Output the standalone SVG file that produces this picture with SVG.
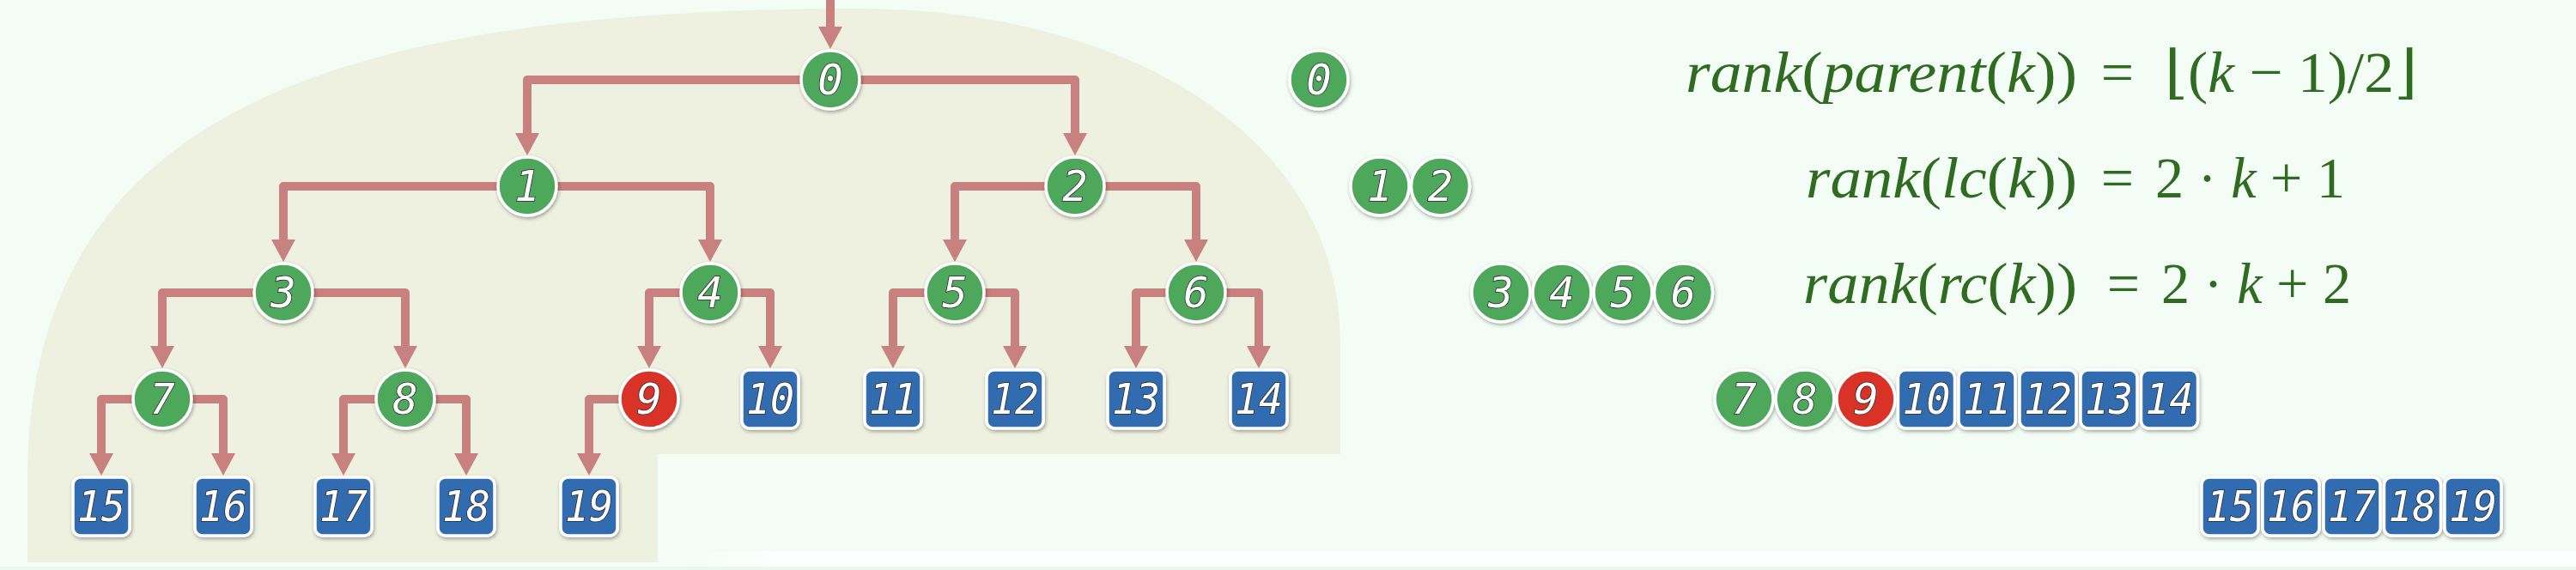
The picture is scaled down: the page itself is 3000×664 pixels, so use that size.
<svg xmlns="http://www.w3.org/2000/svg" width="3000" height="664" viewBox="0 0 3000 664">
<defs>
<style>
.bg{fill:#f3fdf5}
.region{fill:#eef1e0}
.edge{fill:none;stroke:#c8817e;stroke-width:10;stroke-linejoin:round;marker-end:url(#arr)}
.g{fill:#4ea85c;stroke:#fff;stroke-width:3.5}
.r{fill:#d93226;stroke:#fff;stroke-width:3.5}
.b{fill:#316cb0;stroke:#fff;stroke-width:3.5}
.lbl{font-family:"DejaVu Sans Mono","Liberation Mono",monospace;font-style:oblique;font-size:49px;fill:#fff;stroke:#2a2a2a;stroke-width:1.6;paint-order:stroke;text-anchor:middle}
.f{font-family:"Liberation Serif","DejaVu Serif",serif;font-size:68px;fill:#2f6b21}
.i{font-style:italic}
</style>
<marker id="arr" viewBox="0 0 26 28" refX="0" refY="14" markerWidth="26" markerHeight="28" markerUnits="userSpaceOnUse" orient="auto">
<path d="M0,0 L26,14 L0,28 z" fill="#c8817e"/>
</marker>
<filter id="sh" x="-30%" y="-30%" width="160%" height="160%">
<feDropShadow dx="1" dy="2" stdDeviation="2" flood-color="#000" flood-opacity="0.35"/>
</filter>
<linearGradient id="band" x1="0" x2="1" y1="0" y2="0">
<stop offset="0" stop-color="#fdfffe" stop-opacity="0"/>
<stop offset="0.05" stop-color="#fdfffe" stop-opacity="1"/>
<stop offset="1" stop-color="#fdfffe" stop-opacity="1"/>
</linearGradient>
</defs>
<rect class="bg" x="0" y="0" width="3000" height="664"/>
<rect x="800" y="642" width="2200" height="18" fill="url(#band)"/>
<rect x="0" y="660" width="3000" height="4" fill="#e8f7ef"/>
<path class="region" d="M32,560 C32,150 350,10 1000,10 C1300,10 1561,150 1561,400 L1561,529 L766,529 L766,655 L32,655 Z"/>

<g id="connectors">
<path class="edge" d="M967,0 V31"/>
<path class="edge" d="M967,93 H614 V155"/>
<path class="edge" d="M967,93 H1252 V155"/>
<path class="edge" d="M614,217 H330 V279"/>
<path class="edge" d="M614,217 H827 V279"/>
<path class="edge" d="M1252,217 H1112 V279"/>
<path class="edge" d="M1252,217 H1393 V279"/>
<path class="edge" d="M330,341 H189 V403"/>
<path class="edge" d="M330,341 H472 V403"/>
<path class="edge" d="M827,341 H756 V403"/>
<path class="edge" d="M827,341 H897 V403"/>
<path class="edge" d="M1112,341 H1040 V403"/>
<path class="edge" d="M1112,341 H1182 V403"/>
<path class="edge" d="M1393,341 H1323 V403"/>
<path class="edge" d="M1393,341 H1466 V403"/>
<path class="edge" d="M189,465 H118 V528"/>
<path class="edge" d="M189,465 H260 V528"/>
<path class="edge" d="M472,465 H400 V528"/>
<path class="edge" d="M472,465 H543 V528"/>
<path class="edge" d="M756,465 H686 V528"/>
</g>

<g id="tree" filter="url(#sh)">
<g id="t0"><circle class="g" cx="967" cy="93" r="34"/><text class="lbl" x="967" y="110">0</text></g>
<g id="t1"><circle class="g" cx="614" cy="217" r="34"/><text class="lbl" x="614" y="234">1</text></g>
<g id="t2"><circle class="g" cx="1252" cy="217" r="34"/><text class="lbl" x="1252" y="234">2</text></g>
<g id="t3"><circle class="g" cx="330" cy="341" r="34"/><text class="lbl" x="330" y="358">3</text></g>
<g id="t4"><circle class="g" cx="827" cy="341" r="34"/><text class="lbl" x="827" y="358">4</text></g>
<g id="t5"><circle class="g" cx="1112" cy="341" r="34"/><text class="lbl" x="1112" y="358">5</text></g>
<g id="t6"><circle class="g" cx="1393" cy="341" r="34"/><text class="lbl" x="1393" y="358">6</text></g>
<g id="t7"><circle class="g" cx="189" cy="465" r="34"/><text class="lbl" x="189" y="482">7</text></g>
<g id="t8"><circle class="g" cx="472" cy="465" r="34"/><text class="lbl" x="472" y="482">8</text></g>
<g id="t9"><circle class="r" cx="756" cy="465" r="34"/><text class="lbl" x="756" y="482">9</text></g>
<g id="t10"><rect class="b" x="864" y="431" width="66" height="68" rx="9"/><text class="lbl" x="897" y="482" textLength="56" lengthAdjust="spacingAndGlyphs">10</text></g>
<g id="t11"><rect class="b" x="1007" y="431" width="66" height="68" rx="9"/><text class="lbl" x="1040" y="482" textLength="56" lengthAdjust="spacingAndGlyphs">11</text></g>
<g id="t12"><rect class="b" x="1149" y="431" width="66" height="68" rx="9"/><text class="lbl" x="1182" y="482" textLength="56" lengthAdjust="spacingAndGlyphs">12</text></g>
<g id="t13"><rect class="b" x="1290" y="431" width="66" height="68" rx="9"/><text class="lbl" x="1323" y="482" textLength="56" lengthAdjust="spacingAndGlyphs">13</text></g>
<g id="t14"><rect class="b" x="1433" y="431" width="66" height="68" rx="9"/><text class="lbl" x="1466" y="482" textLength="56" lengthAdjust="spacingAndGlyphs">14</text></g>
<g id="t15"><rect class="b" x="85" y="556" width="66" height="68" rx="9"/><text class="lbl" x="118" y="607" textLength="56" lengthAdjust="spacingAndGlyphs">15</text></g>
<g id="t16"><rect class="b" x="227" y="556" width="66" height="68" rx="9"/><text class="lbl" x="260" y="607" textLength="56" lengthAdjust="spacingAndGlyphs">16</text></g>
<g id="t17"><rect class="b" x="367" y="556" width="66" height="68" rx="9"/><text class="lbl" x="400" y="607" textLength="56" lengthAdjust="spacingAndGlyphs">17</text></g>
<g id="t18"><rect class="b" x="510" y="556" width="66" height="68" rx="9"/><text class="lbl" x="543" y="607" textLength="56" lengthAdjust="spacingAndGlyphs">18</text></g>
<g id="t19"><rect class="b" x="653" y="556" width="66" height="68" rx="9"/><text class="lbl" x="686" y="607" textLength="56" lengthAdjust="spacingAndGlyphs">19</text></g>
</g>

<g id="array" filter="url(#sh)">
<g id="a0"><circle class="g" cx="1536" cy="93" r="34"/><text class="lbl" x="1536" y="110">0</text></g>
<g id="a1"><circle class="g" cx="1607" cy="217" r="34"/><text class="lbl" x="1607" y="234">1</text></g>
<g id="a2"><circle class="g" cx="1677.5" cy="217" r="34"/><text class="lbl" x="1677.5" y="234">2</text></g>
<g id="a3"><circle class="g" cx="1748" cy="341" r="34"/><text class="lbl" x="1748" y="358">3</text></g>
<g id="a4"><circle class="g" cx="1819" cy="341" r="34"/><text class="lbl" x="1819" y="358">4</text></g>
<g id="a5"><circle class="g" cx="1890" cy="341" r="34"/><text class="lbl" x="1890" y="358">5</text></g>
<g id="a6"><circle class="g" cx="1960.5" cy="341" r="34"/><text class="lbl" x="1960.5" y="358">6</text></g>
<g id="a7"><circle class="g" cx="2031" cy="465" r="34"/><text class="lbl" x="2031" y="482">7</text></g>
<g id="a8"><circle class="g" cx="2102" cy="465" r="34"/><text class="lbl" x="2102" y="482">8</text></g>
<g id="a9"><circle class="r" cx="2173" cy="465" r="34"/><text class="lbl" x="2173" y="482">9</text></g>
<g id="a10"><rect class="b" x="2210.5" y="431" width="66" height="68" rx="9"/><text class="lbl" x="2243.5" y="482" textLength="56" lengthAdjust="spacingAndGlyphs">10</text></g>
<g id="a11"><rect class="b" x="2281" y="431" width="66" height="68" rx="9"/><text class="lbl" x="2314" y="482" textLength="56" lengthAdjust="spacingAndGlyphs">11</text></g>
<g id="a12"><rect class="b" x="2352" y="431" width="66" height="68" rx="9"/><text class="lbl" x="2385" y="482" textLength="56" lengthAdjust="spacingAndGlyphs">12</text></g>
<g id="a13"><rect class="b" x="2423" y="431" width="66" height="68" rx="9"/><text class="lbl" x="2456" y="482" textLength="56" lengthAdjust="spacingAndGlyphs">13</text></g>
<g id="a14"><rect class="b" x="2493.5" y="431" width="66" height="68" rx="9"/><text class="lbl" x="2526.5" y="482" textLength="56" lengthAdjust="spacingAndGlyphs">14</text></g>
<g id="a15"><rect class="b" x="2564" y="556" width="66" height="68" rx="9"/><text class="lbl" x="2597" y="607" textLength="56" lengthAdjust="spacingAndGlyphs">15</text></g>
<g id="a16"><rect class="b" x="2635" y="556" width="66" height="68" rx="9"/><text class="lbl" x="2668" y="607" textLength="56" lengthAdjust="spacingAndGlyphs">16</text></g>
<g id="a17"><rect class="b" x="2706" y="556" width="66" height="68" rx="9"/><text class="lbl" x="2739" y="607" textLength="56" lengthAdjust="spacingAndGlyphs">17</text></g>
<g id="a18"><rect class="b" x="2776.5" y="556" width="66" height="68" rx="9"/><text class="lbl" x="2809.5" y="607" textLength="56" lengthAdjust="spacingAndGlyphs">18</text></g>
<g id="a19"><rect class="b" x="2847" y="556" width="66" height="68" rx="9"/><text class="lbl" x="2880" y="607" textLength="56" lengthAdjust="spacingAndGlyphs">19</text></g>
</g>

<g id="formulas">
<text class="f" x="1963" y="107" textLength="456" lengthAdjust="spacingAndGlyphs"><tspan class="i">rank</tspan>(<tspan class="i">parent</tspan>(<tspan class="i">k</tspan>))</text>
<text class="f" x="2466" y="107" text-anchor="middle">=</text>
<text class="f" x="2521" y="107" textLength="294" lengthAdjust="spacingAndGlyphs">⌊(<tspan class="i">k</tspan> − 1)/2⌋</text>

<text class="f" x="2103" y="230" textLength="316" lengthAdjust="spacingAndGlyphs"><tspan class="i">rank</tspan>(<tspan class="i">lc</tspan>(<tspan class="i">k</tspan>))</text>
<text class="f" x="2466" y="230" text-anchor="middle">=</text>
<text class="f" x="2510" y="230" textLength="221" lengthAdjust="spacingAndGlyphs">2 · <tspan class="i">k</tspan> + 1</text>

<text class="f" x="2100" y="353" textLength="319" lengthAdjust="spacingAndGlyphs"><tspan class="i">rank</tspan>(<tspan class="i">rc</tspan>(<tspan class="i">k</tspan>))</text>
<text class="f" x="2473" y="353" text-anchor="middle">=</text>
<text class="f" x="2517" y="353" textLength="221" lengthAdjust="spacingAndGlyphs">2 · <tspan class="i">k</tspan> + 2</text>
</g>
</svg>
